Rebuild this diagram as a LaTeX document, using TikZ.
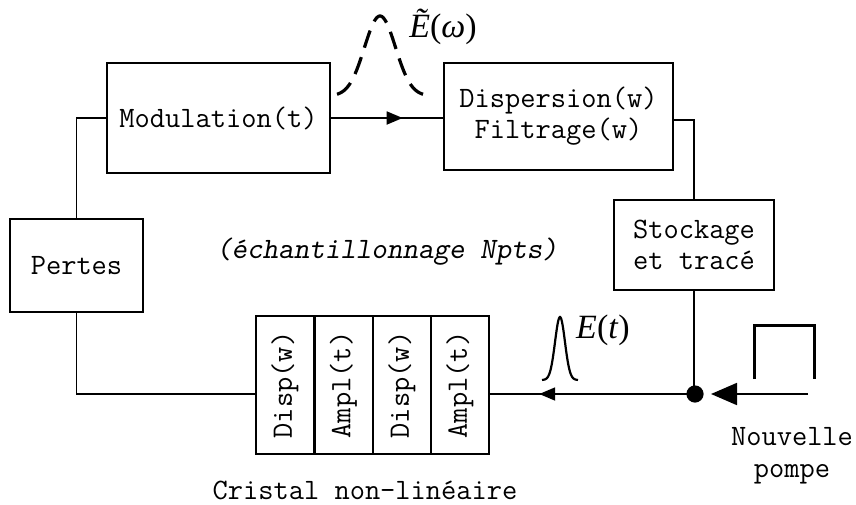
\documentclass[tikz,border=0pt]{standalone}
\usepackage{fontspec}
\setmainfont{Liberation Serif}
\newfontfamily\tms{Liberation Serif}
\usetikzlibrary{arrows.meta,decorations.markings}
\begin{document}
\begin{tikzpicture}[x=0.5pt,y=-0.5pt,
  box/.style={draw,line width=1pt,inner sep=0pt,align=center,font=\ttfamily\fontsize{14.8}{15.5}\selectfont},
  cell/.style={box,minimum width=29pt,minimum height=69pt},
  lbl/.style={inner sep=0pt,align=center,font=\ttfamily\fontsize{14.8}{16}\selectfont},
  mlbl/.style={inner sep=0pt,font=\tms\fontsize{17}{18}\selectfont},
  wire/.style={line width=0.9pt},
  midarrow/.style={postaction={decorate},decoration={markings,mark=at position #1 with {\arrow{Triangle[length=8pt,width=6.5pt]}}}}
]
\useasboundingbox (0,0) rectangle (856,504);
% boxes
\node[box,minimum width=111.5pt,minimum height=55pt] (mod) at (218.5,118) {Modulation(t)};
\node[box,minimum width=114.5pt,minimum height=53.5pt] (disp) at (558.5,116.5) {Dispersion(w)\\Filtrage(w)};
\node[box,minimum width=80pt,minimum height=45pt] (stock) at (694,245) {Stockage\\et trac\'e};
\node[box,minimum width=66.5pt,minimum height=46.5pt] (pertes) at (76.5,265.5) {Pertes};
\node[cell] (c1) at (285,385) {\rotatebox{90}{Disp(w)}};
\node[cell] (c2) at (343.5,385) {\rotatebox{90}{Ampl(t)}};
\node[cell] (c3) at (402,385) {\rotatebox{90}{Disp(w)}};
\node[cell] (c4) at (460,385) {\rotatebox{90}{Ampl(t)}};
\coordinate (dot) at (695,394);
\coordinate (pump) at (808,394);
% connectors
\draw[wire,midarrow=0.64] (mod.east) -- (mod.east -| disp.west);
\draw[wire] ([yshift=-1.75pt]disp.east) -| (stock.north);
\draw[wire] (stock.south) -- (stock.south |- dot);
\draw[wire,midarrow=0.76] (dot) -- (dot -| c4.east);
\draw[wire] (pertes.north) |- (mod.west);
\draw[wire] (pertes.south) |- (c1.west |- dot);
\fill (dot) circle (4.3pt);
\draw[wire,-{Triangle[length=13pt,width=11pt]},shorten >=8pt] (pump) -- (dot);
% square pulse
\draw[line width=1.5pt] (754,379) -- (754,325) -- (814,325) -- (814,379);
% gaussians
\draw[line width=1.1pt] plot[domain=-18:18,samples=80] ({560+\x},{380-63*exp(-(\x/7)*(\x/7))});
\draw[line width=1.6pt,dash pattern=on 9pt off 5pt] plot[domain=-43:43,samples=100] ({380+\x},{96-80*exp(-(\x/22)*(\x/22))});
% labels
\node[mlbl] (ew) at (443,27) {\textit{\char"1EBC}(\textit{\char"03C9})};
\node[mlbl] (et) at (603,330) {\textit{E}(\textit{t})};
\node[lbl,font=\ttfamily\slshape\fontsize{14.8}{16}\selectfont] (ech) at (387,252) {(\'echantillonnage Npts)};
\node[lbl] (nouv) at (792,456) {Nouvelle\\pompe};
\node[lbl] (crist) at (365,490) {Cristal non-lin\'eaire};
\end{tikzpicture}
\end{document}
